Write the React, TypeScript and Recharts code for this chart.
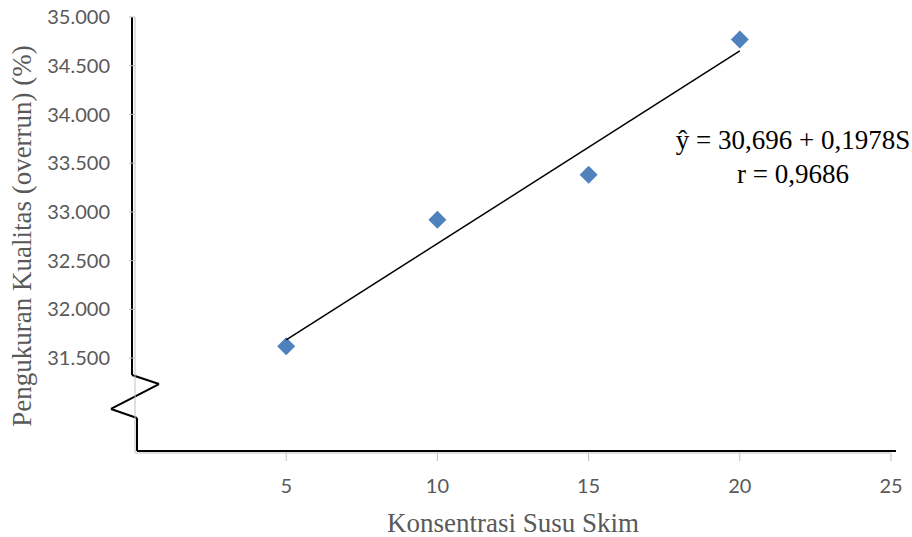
import React from "react";
import {
  ScatterChart,
  Scatter,
  XAxis,
  YAxis,
  ReferenceLine,
  ReferenceArea,
  Customized,
} from "recharts";

// data
const konsentrasi = [5, 10, 15, 20];
const overrun = [31.62, 32.92, 33.38, 34.77];
const trendX = [5, 20];
const trendY = [31.686, 34.652];
const xTicks = [5, 10, 15, 20, 25];
const yTicks = [31.5, 32, 32.5, 33, 33.5, 34, 34.5, 35];
const equation = "ŷ = 30,696 + 0,1978S";
const correlation = "r = 0,9686";

const points = konsentrasi.map((x, i) => ({ x, y: overrun[i] }));
const trend = trendX.map((x, i) => ({ x, y: trendY[i] }));

const GRAY = "#bfbfbf";
const TEXT = "#595959";
const BLUE = "#4f81bd";

// axis break (Excel style zigzag), in data units
const breakTop = { x: -0.099, y: 31.326 };
const breakPts = [
  { x: -0.099, y: 31.326 },
  { x: 0.794, y: 31.233 },
  { x: -0.794, y: 30.977 },
  { x: 0.066, y: 30.884 },
  { x: 0.066, y: 30.546 },
];

const Diamond = (props: any) => {
  const { cx, cy } = props;
  const r = 9;
  return (
    <polygon
      points={`${cx},${cy - r} ${cx + r},${cy} ${cx},${cy + r} ${cx - r},${cy}`}
      fill={BLUE}
    />
  );
};

export default function App() {
  return (
    <div style={{ position: "absolute", left: 0, top: 0, width: 912, height: 537, background: "#fff" }}>
      <ScatterChart
        width={912}
        height={537}
        margin={{ top: 17, right: 21, bottom: 24, left: 0 }}
      >
        <XAxis
          type="number"
          dataKey="x"
          domain={[0, 25]}
          ticks={xTicks}
          allowDataOverflow
          height={60}
          axisLine={{ stroke: GRAY }}
          tickLine={{ stroke: GRAY }}
          tickSize={8}
          tickMargin={18}
          tick={{ fill: TEXT, fontFamily: "Lato", fontSize: 20 }}
          label={{
            content: (p: any) => {
              const vb = p.viewBox;
              return (
                <text
                  x={vb.x + vb.width / 2}
                  y={532}
                  textAnchor="middle"
                  fill={TEXT}
                  fontFamily="Liberation Serif"
                  fontSize={27}
                >
                  Konsentrasi Susu Skim
                </text>
              );
            },
          }}
        />
        <YAxis
          type="number"
          dataKey="y"
          domain={[30.525, 35]}
          ticks={yTicks}
          allowDataOverflow
          width={135}
          axisLine={{ stroke: GRAY }}
          tickLine={{ stroke: GRAY }}
          tickSize={6}
          tickMargin={19}
          tickFormatter={(v: number) => v.toFixed(3)}
          tick={{ fill: TEXT, fontFamily: "Lato", fontSize: 20 }}
          label={{
            content: (p: any) => {
              const vb = p.viewBox;
              const cy = vb.y + vb.height / 2 + 1;
              return (
                <text
                  x={31}
                  y={cy}
                  transform={`rotate(-90, 31, ${cy})`}
                  textAnchor="middle"
                  fill={TEXT}
                  fontFamily="Liberation Serif"
                  fontSize={27}
                >
                  Pengukuran Kualitas (overrun) (%)
                </text>
              );
            },
          }}
        />
        <ReferenceArea
          x1={-0.85}
          x2={0.85}
          y1={30.884}
          y2={31.326}
          fill="#fff"
          fillOpacity={1}
          stroke="none"
          ifOverflow="visible"
        />
        <ReferenceLine
          segment={[{ x: breakTop.x, y: 35 }, breakTop]}
          stroke="#000"
          strokeWidth={2}
          ifOverflow="visible"
        />
        {breakPts.slice(1).map((p, i) => (
          <ReferenceLine
            key={i}
            segment={[breakPts[i], p]}
            stroke="#000"
            strokeWidth={2}
            ifOverflow="visible"
          />
        ))}
        <ReferenceLine
          segment={[
            { x: 0.066, y: 30.546 },
            { x: 25.165, y: 30.546 },
          ]}
          stroke="#000"
          strokeWidth={2}
          ifOverflow="visible"
        />
        <Scatter
          data={points}
          shape={<Diamond />}
          isAnimationActive={false}
        />
        <Scatter
          data={trend}
          line={{ stroke: "#000", strokeWidth: 1.5 }}
          lineType="joint"
          shape={() => <g />}
          isAnimationActive={false}
        />
        <Customized
          component={() => (
            <g fontFamily="Liberation Serif" fontSize={27} fill="#000">
              <text x={793} y={149} textAnchor="middle">
                {equation}
              </text>
              <text x={793} y={183} textAnchor="middle">
                {correlation}
              </text>
            </g>
          )}
        />
      </ScatterChart>
    </div>
  );
}
